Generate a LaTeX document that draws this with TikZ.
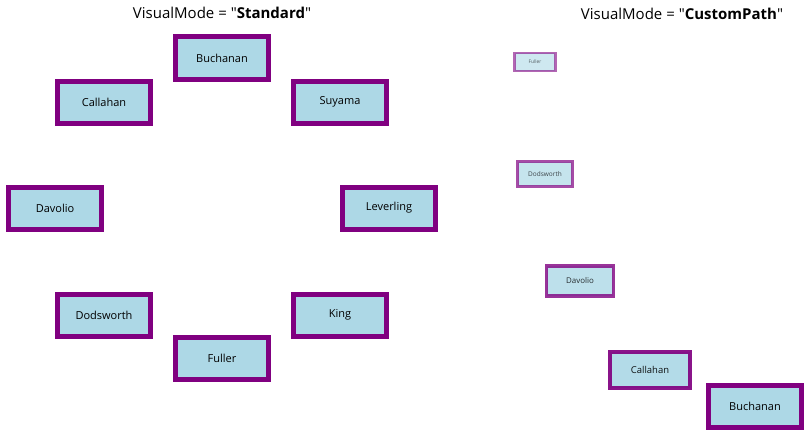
\documentclass[tikz,border=0pt]{standalone}
\usepackage{fontspec}
\setmainfont{Open Sans}[Ligatures=TeXOff]
\definecolor{empPurple}{RGB}{128,0,128}
\definecolor{empBlue}{RGB}{173,216,230}
\tikzset{
  emp/.style={draw=empPurple, fill=empBlue, line width=5pt, rectangle,
    minimum width=93pt, minimum height=42pt, inner sep=0pt, font=\fontsize{11pt}{13pt}\selectfont},
  title/.style={font=\fontsize{15pt}{18pt}\selectfont}
}
\begin{document}
\begin{tikzpicture}[x=1pt,y=-1pt]
   \useasboundingbox (0,0) rectangle (810,436);
   % standard mode
   \node[title] (t1) at (222,13) {VisualMode = "\textbf{Standard}"};
   \node[emp] (buchanan)  at (222,58)  {Buchanan};
   \node[emp] (callahan)  at (104,102) {Callahan};
   \node[emp] (suyama)    at (340,102) {Suyama};
   \node[emp] (davolio)   at (55,208)  {Davolio};
   \node[emp] (leverling) at (389,208) {Leverling};
   \node[emp] (dodsworth) at (104,315) {Dodsworth};
   \node[emp] (king)      at (340,315) {King};
   \node[emp] (fuller)    at (222,358) {Fuller};
   % custom path mode
   \node[title] (t2) at (682,14) {VisualMode = "\textbf{CustomPath}"};
   \node[emp,scale=0.44,line width=2.4pt,opacity=0.6]  (fuller2)    at (535,62)  {Fuller};
   \node[emp,scale=0.59,line width=3pt,opacity=0.7]    (dodsworth2) at (545,174) {Dodsworth};
   \node[emp,scale=0.72,line width=3.6pt,opacity=0.8]  (davolio2)   at (580,281) {Davolio};
   \node[emp,scale=0.86,line width=4.3pt,opacity=0.92] (callahan2)  at (650,370) {Callahan};
   \node[emp] (buchanan2) at (755,406) {Buchanan};
\end{tikzpicture}
\end{document}
